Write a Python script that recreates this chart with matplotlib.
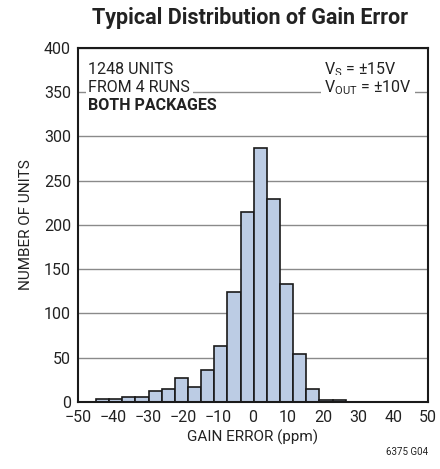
import matplotlib
matplotlib.use('Agg')
import matplotlib.pyplot as plt

# histogram data
bin_edges = [-44.8, -41.05, -37.3, -33.55, -29.8, -26.05, -22.3, -18.55, -14.8, -11.05,
             -7.3, -3.55, 0.2, 3.95, 7.7, 11.45, 15.2, 18.95, 22.7, 26.45]
unit_counts = [3, 3, 6, 6, 12, 15, 27, 17, 36, 63, 124, 214, 287, 229, 133, 54, 15, 2, 2]

x_ticks = [-50, -40, -30, -20, -10, 0, 10, 20, 30, 40, 50]
y_ticks = [0, 50, 100, 150, 200, 250, 300, 350, 400]

FONT = ['Roboto', 'DejaVu Sans']
plt.rcParams['font.family'] = FONT
plt.rcParams['axes.unicode_minus'] = True

fig = plt.figure(figsize=(4.4, 4.69), dpi=100)
ax = fig.add_axes([0.177, 0.143, 0.796, 0.755])

widths = [b - a for a, b in zip(bin_edges[:-1], bin_edges[1:])]
ax.bar(bin_edges[:-1], unit_counts, width=widths, align='edge',
       color='#bccce4', edgecolor='#1a1a1a', linewidth=1.2, zorder=3)

ax.set_xlim(-50, 50)
ax.set_ylim(0, 400)
ax.set_xticks(x_ticks)
ax.set_yticks(y_ticks)
ax.set_xticklabels([str(t).replace('-', '\u2212') for t in x_ticks])
ax.yaxis.grid(True, color='#8a8a8a', linewidth=1.0, zorder=0)
ax.tick_params(length=0, labelsize=11.5, colors='#222222')
ax.tick_params(axis='x', pad=6)
ax.tick_params(axis='y', pad=5)
for sp in ax.spines.values():
    sp.set_linewidth(1.5)
    sp.set_color('#1a1a1a')
    sp.set_zorder(5)

ax.set_xlabel('GAIN ERROR (ppm)', fontsize=11, labelpad=3, color='#222222')
ax.set_ylabel('NUMBER OF UNITS', fontsize=11, labelpad=8, color='#222222')
fig.suptitle('Typical Distribution of Gain Error', x=0.568, y=0.985,
             fontsize=15.5, fontweight='bold', color='#222222')

box = dict(facecolor='white', edgecolor='none', pad=2)
txt = dict(transform=ax.transAxes, fontsize=11.5, color='#222222', va='baseline', zorder=6)
ax.text(0.03, 0.925, '1248 UNITS', bbox=box, **txt)
ax.text(0.03, 0.875, 'FROM 4 RUNS', bbox=box, **txt)
ax.text(0.03, 0.825, 'BOTH PACKAGES', fontweight='bold', bbox=box, **txt)
ax.text(0.703, 0.925, r'V$_\mathregular{S}$ = ±15V', bbox=box, **txt)
ax.text(0.703, 0.875, r'V$_\mathregular{OUT}$ = ±10V', bbox=box, **txt)

fig.text(0.973, 0.03, '6375 G04', fontsize=7, ha='right', color='#222222')

fig.savefig('out.png', dpi=100)
